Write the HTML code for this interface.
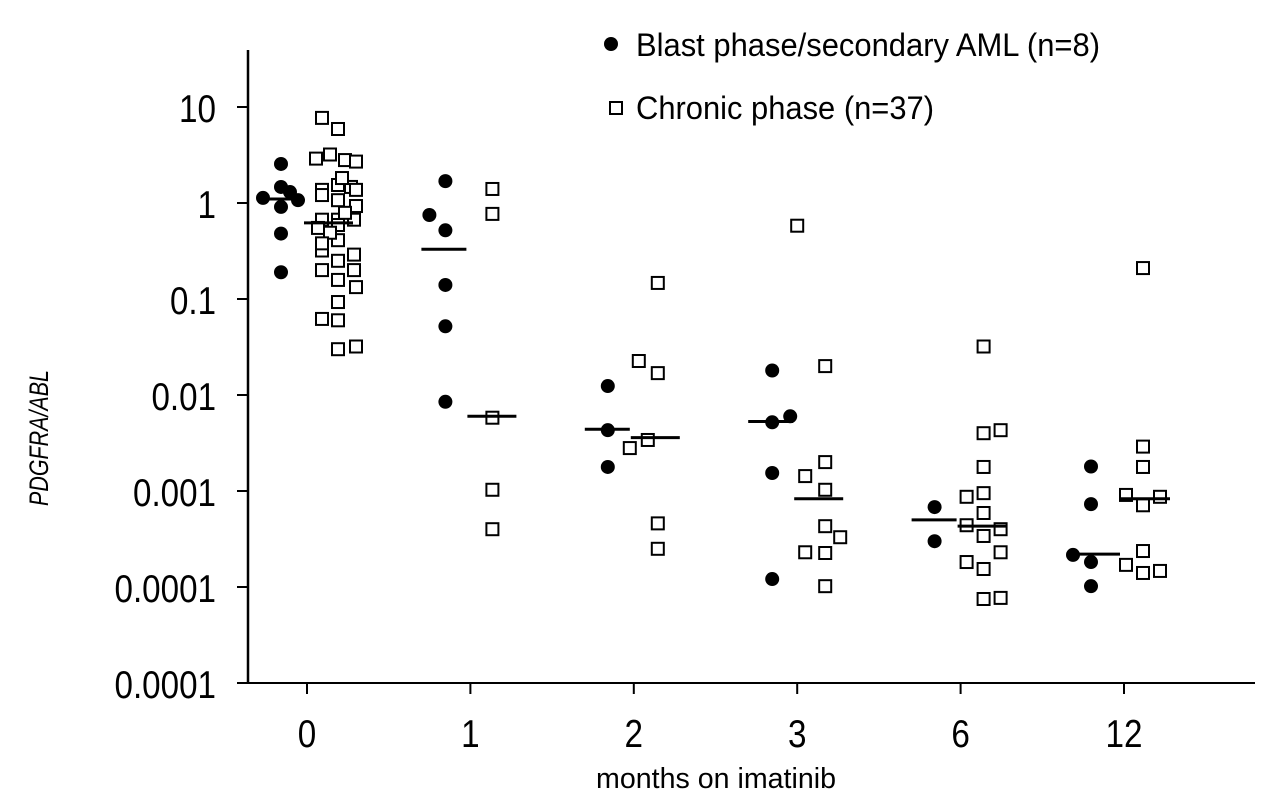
<!DOCTYPE html>
<html><head><meta charset="utf-8"><style>
html,body{margin:0;padding:0;background:#fff;}
svg{display:block;font-family:"Liberation Sans",sans-serif;}
</style></head><body>
<svg id="chart" width="1280" height="804" viewBox="0 0 1280 804">
<g id="axes"></g>
<g id="marks"></g>
<g>
<circle cx="611" cy="44" r="7" fill="#000"/>
<text x="636" y="56" font-size="32" textLength="464" lengthAdjust="spacingAndGlyphs">Blast phase/secondary AML (n=8)</text>
<rect x="610" y="102" width="12" height="12" fill="#fff" stroke="#000" stroke-width="2"/>
<text x="636" y="119" font-size="32" textLength="298" lengthAdjust="spacingAndGlyphs">Chronic phase (n=37)</text>
</g>
<text transform="translate(48,438) rotate(-90)" text-anchor="middle" font-size="27" font-style="italic" textLength="136" lengthAdjust="spacingAndGlyphs">PDGFRA/ABL</text>
<text x="716" y="788" text-anchor="middle" font-size="29" textLength="240" lengthAdjust="spacingAndGlyphs">months on imatinib</text>
</svg>
<script>
const categories = ["0","1","2","3","6","12"];
const yTickValues = [10,1,0.1,0.01,0.001,0.0001,0.00001];
const yTickLabels = ["10","1","0.1","0.01","0.001","0.0001","0.0001"];
const blastValues = [
 [1.13,2.55,1.47,1.30,1.07,0.91,0.48,0.19],
 [0.75,1.69,0.52,0.14,0.052,0.0085],
 [0.0124,0.0043,0.00178],
 [0.018,0.0052,0.0060,0.00154,0.000121],
 [0.00068,0.0003],
 [0.0018,0.00073,0.000216,0.000182,0.000102]
];
const blastMedians = [1.1,0.33,0.0044,0.0053,0.0005,0.00022];
const chronicValues = [
 [7.7,5.9,2.9,3.2,2.8,2.7,1.37,1.54,1.47,1.37,1.82,0.93,0.67,0.67,0.67,0.55,0.59,0.32,0.25,0.29,0.20,0.158,0.20,0.133,0.093,0.062,0.06,0.030,0.032,0.41,0.49,0.38,0.79,1.07,1.21],
 [1.40,0.77,0.0058,0.00103,0.0004],
 [0.147,0.0226,0.0169,0.0028,0.0034,0.00046,0.00025],
 [0.58,0.020,0.00143,0.0020,0.00103,0.00043,0.000226,0.00023,0.00033,0.000102],
 [0.032,0.0040,0.0043,0.00178,0.00087,0.00095,0.00059,0.00044,0.0004,0.00034,0.00023,0.000182,0.000154,0.000075,0.000077],
 [0.21,0.0029,0.00178,0.00091,0.00071,0.00087,0.000237,0.00017,0.00014,0.000147]
];
const chronicMedians = [0.62,0.006,0.0036,0.00083,0.00043,0.00083];
// jitter offsets (layout, px)
const blastJitter = [[-44,-26,-26,-17,-9,-26,-26,-26],[-41,-25,-25,-25,-25,-25],[-26,-26,-26],[-25,-25,-7,-25,-25],[-26,-26],[-33,-33,-51,-33,-33]];
const chronicJitter = [[15,31,9,23,38,49,15,31,44,49,35,49,15,31,47,11,31,15,31,47,15,31,47,49,31,15,31,31,49,31,23,15,38,31,15],[22,22,22,22,22],[24,5,24,-4,14,24,24],[0,28,8,28,28,28,28,8,43,28],[23,23,40,23,6,23,23,6,40,23,40,6,23,23,40],[19,19,19,2,19,36,19,2,19,36]];

const NS="http://www.w3.org/2000/svg";
const xCenter = i => 307 + i*163.4;
const yScale = v => 203 - 96*Math.log10(v);
function mk(tag, attrs, parent){const e=document.createElementNS(NS,tag);for(const k in attrs)e.setAttribute(k,attrs[k]);parent.appendChild(e);return e;}
function labelWidth(s){let w=0;for(const ch of s)w+=(ch==='.'?9:18.5);return w;}
const axes=document.getElementById('axes'), marks=document.getElementById('marks');

let e=mk('line',{x1:248,y1:50,x2:248,y2:684,stroke:'#000','stroke-width':2.5},axes);


e=mk('line',{x1:247,y1:683,x2:1255,y2:683,stroke:'#000','stroke-width':2},axes);


yTickValues.forEach((v,i)=>{
  const y=yScale(v);
  let t=mk('line',{x1:237,y1:y,x2:248,y2:y,stroke:'#000','stroke-width':2},axes);
  
  
  const s=yTickLabels[i], w=labelWidth(s);
  let l=mk('text',{x:216-w,y:y+15,'font-size':39,textLength:w,lengthAdjust:'spacingAndGlyphs'},axes);
  l.textContent=s;
  
  
});
categories.forEach((c,i)=>{
  const x=xCenter(i);
  let t=mk('line',{x1:x,y1:683,x2:x,y2:694,stroke:'#000','stroke-width':2},axes);
  
  
  const w=labelWidth(c);
  let l=mk('text',{x:x-w/2,y:747,'font-size':39,textLength:w,lengthAdjust:'spacingAndGlyphs'},axes);
  l.textContent=c;
  
  
});
categories.forEach((c,i)=>{
  const x=xCenter(i);
  chronicValues[i].forEach((v,j)=>{
    const r=mk('rect',{x:x+chronicJitter[i][j]-6,y:yScale(v)-6,width:12,height:12,fill:'#fff',stroke:'#000','stroke-width':2},marks);
    
    
  });
  blastValues[i].forEach((v,j)=>{
    const d=mk('circle',{cx:x+blastJitter[i][j],cy:yScale(v),r:7,fill:'#000'},marks);
    
    
  });
  let m=mk('line',{x1:x-49,x2:x-4,y1:yScale(blastMedians[i]),y2:yScale(blastMedians[i]),stroke:'#000','stroke-width':3},marks);
  
  
  let m2=mk('line',{x1:x-3,x2:x+46,y1:yScale(chronicMedians[i]),y2:yScale(chronicMedians[i]),stroke:'#000','stroke-width':3},marks);
  
  
});
</script>
</body></html>
